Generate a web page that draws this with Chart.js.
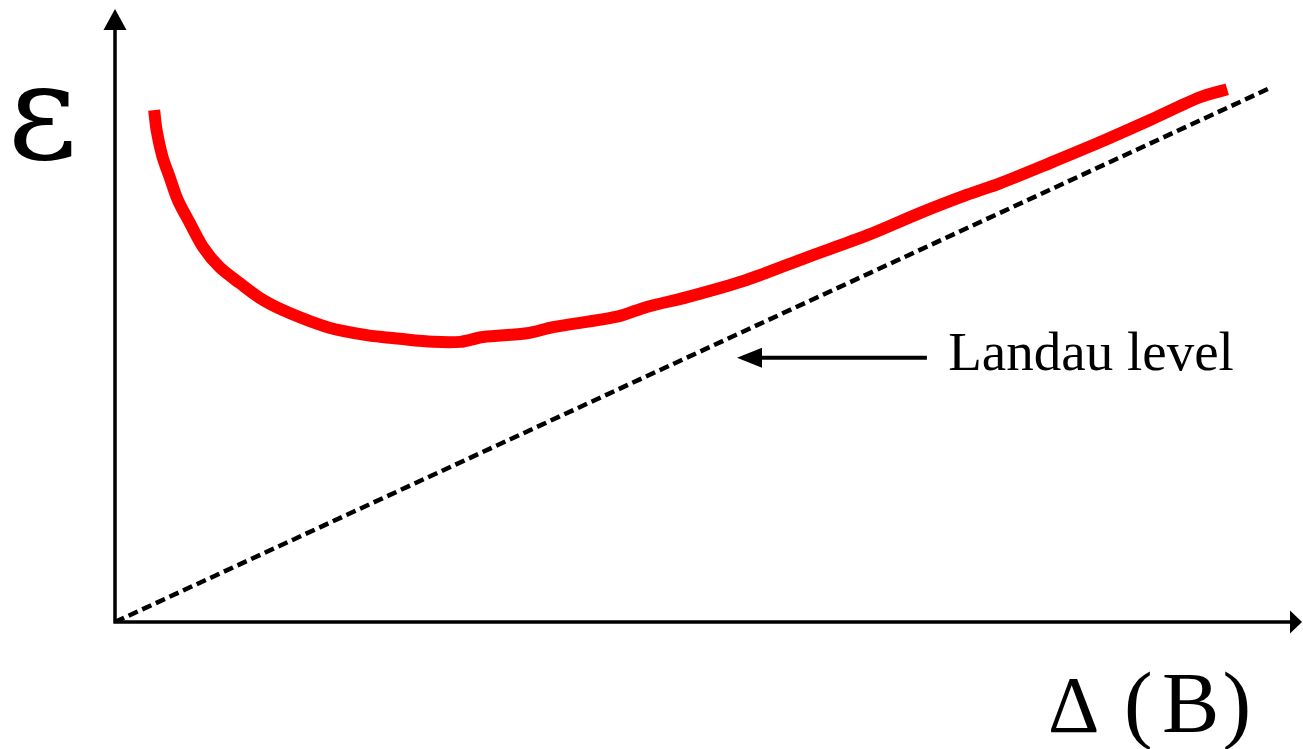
<!DOCTYPE html>
<html>
<head>
<meta charset="utf-8">
<script src="https://cdn.jsdelivr.net/npm/chart.js@4/dist/chart.umd.min.js"></script>
<style>
  html, body { margin: 0; padding: 0; background: #fff; }
  #wrap { width: 1303px; height: 749px; position: relative; }
</style>
</head>
<body>
<div id="wrap"><canvas id="chart"></canvas></div>
<script>
// energy curve (red) sampled along the field axis
const curveX = [0.33, 0.35, 0.40, 0.46, 0.53, 0.63, 0.74, 0.88, 1.05, 1.25, 1.47, 1.79, 2.12, 2.40, 2.68, 2.91,
                3.10, 3.47, 3.69, 4.23, 4.48, 4.82, 5.32, 5.83, 6.34, 6.78, 7.18, 7.46, 7.88, 8.30, 8.72, 9.14, 9.37];
const curveY = [8.35, 8.03, 7.59, 7.26, 6.88, 6.51, 6.12, 5.79, 5.53, 5.25, 5.04, 4.81, 4.68, 4.62, 4.57, 4.57,
                4.65, 4.71, 4.81, 4.98, 5.14, 5.30, 5.58, 5.95, 6.31, 6.67, 6.97, 7.16, 7.49, 7.83, 8.19, 8.56, 8.69];

// Landau level: straight line from the origin
const landauX = [0, 9.73];
const landauY = [0, 8.71];

const axisMax = { x: 10, y: 10 };

const pts = (xs, ys) => xs.map((x, i) => ({ x, y: ys[i] }));

function arrowHead(ctx, tipX, tipY, dir, len, half) {
  // dir: unit vector pointing toward the tip
  const bx = tipX - dir[0] * len, by = tipY - dir[1] * len;
  ctx.beginPath();
  ctx.moveTo(tipX, tipY);
  ctx.lineTo(bx - dir[1] * half, by + dir[0] * half);
  ctx.lineTo(bx + dir[1] * half, by - dir[0] * half);
  ctx.closePath();
  ctx.fill();
}

const serif = '"Liberation Serif", "Times New Roman", serif';
const greek = '"DejaVu Serif", "Liberation Serif", serif';

const axesPlugin = {
  id: 'axesPlugin',
  beforeDatasetsDraw(chart) {
    const { ctx, scales: { x, y } } = chart;
    const x0 = x.getPixelForValue(0), y0 = y.getPixelForValue(0);
    const xTip = x.getPixelForValue(axisMax.x), yTip = y.getPixelForValue(axisMax.y);
    ctx.save();
    ctx.strokeStyle = '#000';
    ctx.fillStyle = '#000';
    ctx.lineWidth = 3.5;
    ctx.beginPath();
    ctx.moveTo(x0, y0 + 1.5);
    ctx.lineTo(x0, yTip + 15);
    ctx.moveTo(x0 - 1.5, y0);
    ctx.lineTo(xTip - 8, y0);
    ctx.stroke();
    arrowHead(ctx, x0, yTip, [0, -1], 21, 11.5);
    arrowHead(ctx, xTip, y0, [1, 0], 12, 11.5);
    ctx.restore();
  },
  afterDraw(chart) {
    const { ctx, scales: { x, y } } = chart;
    const px = v => x.getPixelForValue(v), py = v => y.getPixelForValue(v);
    ctx.save();
    ctx.fillStyle = '#000';
    ctx.strokeStyle = '#000';

    // arrow pointing at the dashed line
    const ay = py(4.31);
    const a1 = px(6.84), a2 = px(5.24);
    ctx.lineWidth = 4;
    ctx.beginPath();
    ctx.moveTo(a1, ay);
    ctx.lineTo(a2 + 20, ay);
    ctx.stroke();
    arrowHead(ctx, a2, ay, [-1, 0], 25, 10);

    ctx.textBaseline = 'alphabetic';
    ctx.textAlign = 'left';
    ctx.font = '55px ' + serif;
    ctx.fillText('Landau level', px(7.02), py(4.11));

    // x-axis title, spaced out glyph by glyph
    const base = py(-1.79);
    ctx.font = '80px ' + serif;
    ctx.fillText('\u0394', px(7.86), base);
    ctx.font = '86px ' + serif;
    ctx.fillText('(', px(8.50), base);
    ctx.fillText('B', px(8.82), base);
    ctx.fillText(')', px(9.33), base);

    // y-axis title
    ctx.textAlign = 'center';
    ctx.font = '135px ' + greek;
    ctx.fillText('\u03B5', px(-0.61), py(7.57));
    ctx.restore();
  }
};

new Chart(document.getElementById('chart'), {
  type: 'line',
  data: {
    datasets: [
      {
        data: pts(landauX, landauY),
        borderColor: '#000',
        borderWidth: 4.5,
        borderDash: [10, 5],
        pointRadius: 0,
        tension: 0
      },
      {
        data: pts(curveX, curveY),
        borderColor: '#ff0000',
        borderWidth: 12,
        pointRadius: 0,
        tension: 0.3,
        borderCapStyle: 'butt'
      }
    ]
  },
  options: {
    responsive: true,
    maintainAspectRatio: false,
    animation: false,
    layout: { padding: { left: 115, right: 1, top: 9, bottom: 127 } },
    plugins: { legend: { display: false }, tooltip: { enabled: false } },
    scales: {
      x: { type: 'linear', min: 0, max: axisMax.x, display: false },
      y: { type: 'linear', min: 0, max: axisMax.y, display: false }
    }
  },
  plugins: [axesPlugin]
});
</script>
</body>
</html>
